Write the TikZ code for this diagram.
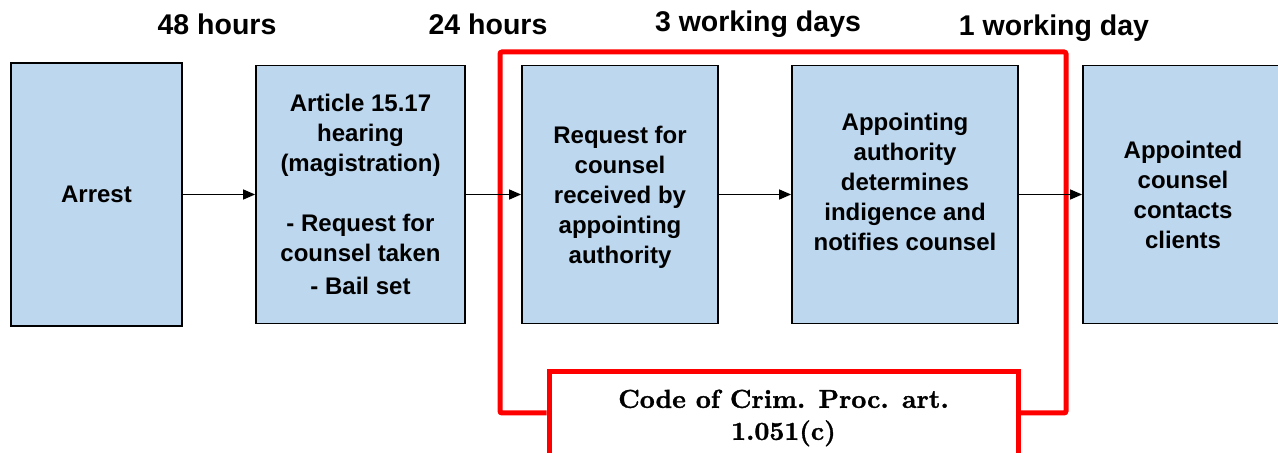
\documentclass[tikz,border=0pt]{standalone}
\usepackage{fontspec}
\newfontfamily\arialfont{Liberation Sans}
\newfontfamily\lawfont{lmroman10-bold}[Extension=.otf, FakeBold=1.2]
\usetikzlibrary{positioning, arrows.meta}

\definecolor{boxblue}{HTML}{BDD7EE}
\definecolor{lawred}{HTML}{FF0000}

\begin{document}
\begin{tikzpicture}[x=0.5pt, y=-0.5pt, >={Triangle[length=6pt, width=5pt]},
    stage/.style={draw=black, line width=0.9pt, fill=boxblue, minimum height=129pt,
                  inner sep=2pt, align=center, font=\arialfont\bfseries\fontsize{12}{15}\selectfont},
    period/.style={font=\arialfont\bfseries\fontsize{14.25}{17}\selectfont},
    statute/.style={draw=lawred, line width=2.5pt, fill=white, minimum width=234.5pt,
                    minimum height=46pt, align=center, font=\lawfont\fontsize{13}{16}\selectfont},
    flow/.style={->, line width=0.7pt}]
    \useasboundingbox (0,0) rectangle (1278,453);

    % stages of the process
    \node[stage, minimum width=85.5pt, minimum height=131.5pt] (arrest) at (96.5,194.5) {Arrest};
    \node[stage, minimum width=104.5pt, right=36.1pt of arrest] (hearing)
        {Article 15.17\\hearing\\(magistration)\\[15pt]- Request for\\counsel taken\\[1.5pt]- Bail set};
    \node[stage, minimum width=98pt, right=27.6pt of hearing, text depth=-3pt] (request)
        {Request for\\counsel\\received by\\appointing\\authority};
    \node[stage, minimum width=113pt, right=36.1pt of request] (decide)
        {Appointing\\authority\\determines\\indigence and\\notifies counsel\\[-7pt]\strut};
    \node[stage, minimum width=100pt, right=31.6pt of decide] (contact)
        {Appointed\\counsel\\contacts\\clients};

    % time limits
    \node[period] (limit48) at (217,24) {48 hours};
    \node[period] (limit24) at (488,24) {24 hours};
    \node[period] (limit3) at (758,24) {3 working days};
    \node[period] (limit1) at (1054,28) {1 working day};

    % statute frame
    \coordinate (frameNW) at (500,52);
    \coordinate (frameSE) at (1066,413);
    \node[statute] (code) at (783.5,418) {Code of Crim. Proc. art.\\1.051(c)};
    \draw[draw=lawred, line width=2.5pt, rounded corners=1pt]
        (code.west |- frameSE) -| (frameNW) -| (frameSE) -- (code.east |- frameSE);

    \draw[flow] (arrest.east) -- (hearing.west);
    \draw[flow] (hearing.east) -- (request.west);
    \draw[flow] (request.east) -- (decide.west);
    \draw[flow] (decide.east) -- (contact.west);
\end{tikzpicture}
\end{document}
